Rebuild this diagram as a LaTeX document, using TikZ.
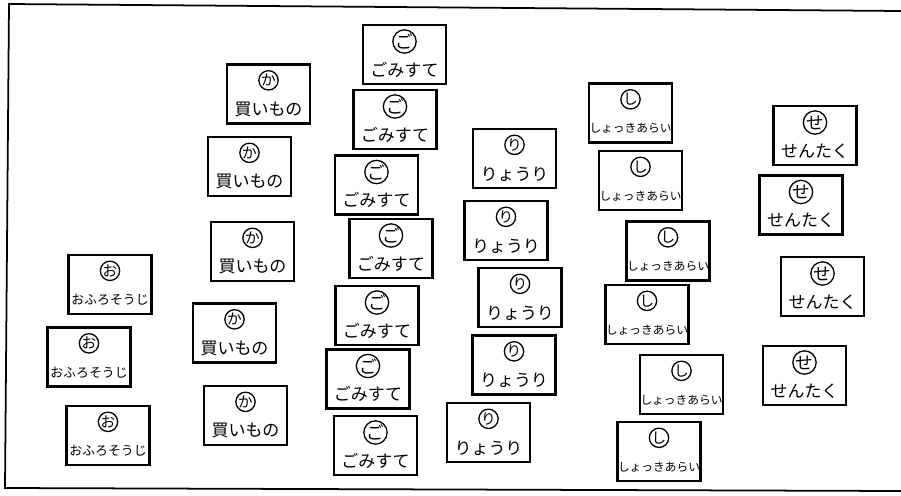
\documentclass[tikz,border=0pt]{standalone}
\usepackage{fontspec}
\setmainfont{Noto Sans CJK JP}

\begin{document}
\begin{tikzpicture}[x=0.03cm, y=-0.03cm,
    card/.style 2 args={rectangle, draw, black, line width=2pt, minimum width=2.49cm, minimum height=1.77cm, inner sep=0pt,
        label={[maru]center:#1}, label={[word]center:#2}},
    bigcard/.style 2 args={rectangle, draw, black, line width=2pt, minimum width=2.49cm, minimum height=1.77cm, inner sep=0pt,
        label={[maru, big maru]center:#1}, label={[word]center:#2}},
    maru/.style={circle, draw, black, line width=1.1pt, minimum size=0.58cm, inner sep=0pt, yshift=0.41cm, font=\fontsize{12.5}{12.5}\selectfont},
    big maru/.style={minimum size=0.7cm, yshift=-0.02cm, font=\fontsize{15}{15}\selectfont},
    word/.style={inner sep=0pt, yshift=-0.46cm, font=\fontsize{14.5}{14.5}\selectfont},
    frame/.style={draw, black, line width=1.5pt}]

    \useasboundingbox (0,0) rectangle (901,495);

    % Outer frame (open on the right)
    \draw[frame] (901,11) -- (9,4) -- (5,488) -- (901,491);

    % おふろそうじ cards
    \node[card={お}{{\fontsize{11}{11}\selectfont おふろそうじ}}] (ofuro1) at (110,284.5) {};
    \node[card={お}{{\fontsize{11}{11}\selectfont おふろそうじ}}] (ofuro2) at (89,357) {};
    \node[card={お}{{\fontsize{11}{11}\selectfont おふろそうじ}}] (ofuro3) at (108,435.5) {};

    % 買いもの cards
    \node[card={か}{買いもの}] (kai1) at (268.5,94) {};
    \node[card={か}{買いもの}] (kai2) at (249.5,166.5) {};
    \node[card={か}{買いもの}] (kai3) at (252.5,251.5) {};
    \node[card={か}{買いもの}] (kai4) at (234.5,333) {};
    \node[card={か}{買いもの}] (kai5) at (245.5,415.5) {};

    % ごみすて cards
    \node[bigcard={ご}{ごみすて}] (gomi1) at (404.5,54.5) {};
    \node[bigcard={ご}{ごみすて}] (gomi2) at (395,119.5) {};
    \node[bigcard={ご}{ごみすて}] (gomi3) at (376.5,185) {};
    \node[bigcard={ご}{ごみすて}] (gomi4) at (391,248.5) {};
    \node[bigcard={ご}{ごみすて}] (gomi5) at (377,315.5) {};
    \node[bigcard={ご}{ごみすて}] (gomi6) at (368,379) {};
    \node[bigcard={ご}{ごみすて}] (gomi7) at (375.5,445.5) {};

    % りょうり cards
    \node[card={り}{りょうり}] (ryori1) at (514.5,158.5) {};
    \node[card={り}{りょうり}] (ryori2) at (506,230.5) {};
    \node[card={り}{りょうり}] (ryori3) at (520,297.5) {};
    \node[card={り}{りょうり}] (ryori4) at (514,365) {};
    \node[card={り}{りょうり}] (ryori5) at (488.5,432.5) {};

    % しょっきあらい cards
    \node[card={し}{{\fontsize{10}{10}\selectfont しょっきあらい}}] (shokki1) at (630.5,113) {};
    \node[card={し}{{\fontsize{10}{10}\selectfont しょっきあらい}}] (shokki2) at (640.5,180.5) {};
    \node[card={し}{{\fontsize{10}{10}\selectfont しょっきあらい}}] (shokki3) at (668,251) {};
    \node[card={し}{{\fontsize{10}{10}\selectfont しょっきあらい}}] (shokki4) at (647,314.5) {};
    \node[card={し}{{\fontsize{10}{10}\selectfont しょっきあらい}}] (shokki5) at (681.5,384.5) {};
    \node[card={し}{{\fontsize{10}{10}\selectfont しょっきあらい}}] (shokki6) at (659,451.5) {};

    % せんたく cards
    \node[bigcard={せ}{せんたく}] (sentaku1) at (815,135.5) {};
    \node[bigcard={せ}{せんたく}] (sentaku2) at (801,205) {};
    \node[bigcard={せ}{せんたく}] (sentaku3) at (822.5,286.5) {};
    \node[bigcard={せ}{せんたく}] (sentaku4) at (804.5,375.5) {};

\end{tikzpicture}
\end{document}
